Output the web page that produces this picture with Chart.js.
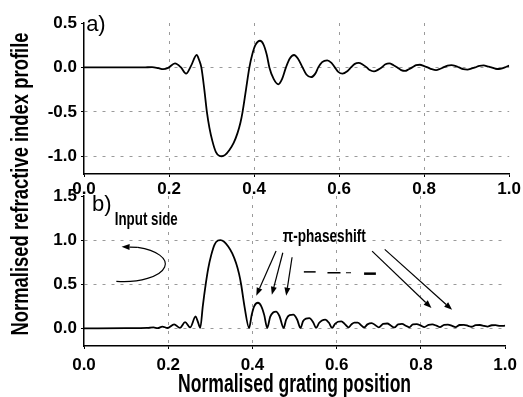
<!DOCTYPE html>
<html>
<head>
<meta charset="utf-8">
<script src="https://cdn.jsdelivr.net/npm/chart.js@4.4.0/dist/chart.umd.min.js"></script>
<style>
  body { margin: 0; background: #fff; }
  #wrap { position: relative; width: 523px; height: 397px; }
  canvas { position: absolute; left: 0; top: 0; }
</style>
</head>
<body>
<div id="wrap">
  <canvas id="profile" width="523" height="397"></canvas>
  <canvas id="envelope" width="523" height="397"></canvas>
</div>
<script>
// panel a) refractive index profile
var posA = [0.000, 0.050, 0.100, 0.140, 0.160, 0.175, 0.186, 0.198, 0.214, 0.228, 0.240, 0.252, 0.265, 0.271, 0.276,
  0.283, 0.289, 0.295, 0.302, 0.310, 0.318, 0.324, 0.332, 0.342, 0.352, 0.361, 0.368, 0.373, 0.381, 0.389,
  0.396, 0.403, 0.414, 0.422, 0.430, 0.436, 0.446, 0.457, 0.466, 0.475, 0.484, 0.494, 0.503, 0.514, 0.523,
  0.534, 0.544, 0.551, 0.560, 0.572, 0.582, 0.590, 0.598, 0.608, 0.620, 0.628, 0.637, 0.646, 0.656, 0.665,
  0.672, 0.682, 0.692, 0.700, 0.709, 0.718, 0.728, 0.737, 0.746, 0.755, 0.764, 0.772, 0.781, 0.790, 0.800,
  0.808, 0.818, 0.828, 0.838, 0.845, 0.855, 0.864, 0.874, 0.882, 0.892, 0.902, 0.912, 0.920, 0.930, 0.940,
  0.950, 0.958, 0.968, 0.976, 0.985, 0.992, 1.000];
var profileA = [0.000, 0.000, 0.000, 0.000, 0.004, -0.008, -0.020, -0.005, 0.045, 0.000, -0.070, 0.020, 0.140, 0.080, 0.000,
  -0.250, -0.500, -0.680, -0.830, -0.950, -0.995, -1.000, -0.985, -0.930, -0.850, -0.740, -0.620, -0.500, -0.250, 0.000,
  0.150, 0.250, 0.300, 0.260, 0.140, 0.000, -0.130, -0.190, -0.130, 0.000, 0.100, 0.140, 0.100, 0.000, -0.080,
  -0.110, -0.070, 0.000, 0.060, 0.080, 0.050, 0.000, -0.050, -0.070, -0.040, 0.000, 0.040, 0.050, 0.030, 0.000,
  -0.030, -0.045, -0.025, 0.000, 0.035, 0.045, 0.025, 0.000, -0.030, -0.040, -0.020, 0.000, 0.025, 0.030, 0.015,
  0.000, -0.020, -0.030, -0.015, 0.000, 0.020, 0.025, 0.015, 0.000, -0.020, -0.025, -0.012, 0.000, 0.018, 0.022,
  0.010, 0.000, -0.015, -0.018, -0.008, 0.005, 0.020];

// panel b) normalised envelope
var posB = [0.000, 0.100, 0.150, 0.165, 0.175, 0.186, 0.198, 0.214, 0.228, 0.240, 0.252, 0.265, 0.270, 0.276, 0.282,
  0.289, 0.295, 0.302, 0.310, 0.318, 0.324, 0.332, 0.342, 0.352, 0.361, 0.368, 0.373, 0.381, 0.392, 0.398,
  0.404, 0.413, 0.421, 0.428, 0.435, 0.442, 0.449, 0.456, 0.464, 0.474, 0.480, 0.488, 0.497, 0.506, 0.514,
  0.520, 0.527, 0.535, 0.544, 0.551, 0.558, 0.565, 0.573, 0.582, 0.589, 0.596, 0.603, 0.611, 0.620, 0.628,
  0.635, 0.642, 0.650, 0.658, 0.665, 0.673, 0.683, 0.692, 0.700, 0.710, 0.720, 0.729, 0.737, 0.746, 0.755,
  0.764, 0.772, 0.781, 0.790, 0.800, 0.808, 0.818, 0.827, 0.837, 0.845, 0.855, 0.864, 0.874, 0.882, 0.892,
  0.902, 0.912, 0.920, 0.930, 0.940, 0.950, 0.958, 0.968, 0.977, 0.988, 1.000];
var envelopeB = [0.000, 0.002, 0.005, 0.010, 0.002, 0.020, 0.004, 0.045, 0.005, 0.070, 0.010, 0.135, 0.080, 0.005, 0.250,
  0.500, 0.680, 0.830, 0.950, 0.995, 1.000, 0.985, 0.930, 0.850, 0.740, 0.620, 0.500, 0.250, 0.005, 0.150,
  0.250, 0.290, 0.250, 0.150, 0.005, 0.130, 0.180, 0.190, 0.140, 0.005, 0.100, 0.150, 0.155, 0.100, 0.005,
  0.080, 0.110, 0.115, 0.070, 0.005, 0.060, 0.090, 0.100, 0.060, 0.005, 0.050, 0.075, 0.080, 0.045, 0.010,
  0.045, 0.065, 0.065, 0.035, 0.010, 0.045, 0.060, 0.035, 0.010, 0.050, 0.055, 0.030, 0.010, 0.045, 0.050,
  0.030, 0.012, 0.045, 0.048, 0.030, 0.015, 0.040, 0.045, 0.030, 0.015, 0.040, 0.042, 0.028, 0.015, 0.038,
  0.040, 0.028, 0.018, 0.036, 0.038, 0.028, 0.020, 0.035, 0.036, 0.028, 0.030];

var xTickValues = [0.0, 0.2, 0.4, 0.6, 0.8, 1.0];
var yTicksA = [-1.0, -0.5, 0.0, 0.5];
var yTicksB = [0.0, 0.5, 1.0, 1.5];

// annotations of panel b, in data units
var phaseArrows = [
  [0.456, 0.876, 0.409, 0.37],
  [0.472, 0.857, 0.446, 0.38],
  [0.494, 0.806, 0.480, 0.37],
  [0.684, 0.876, 0.825, 0.23],
  [0.714, 0.895, 0.874, 0.21]
];
var dashes = [
  [0.522, 0.550, 0.640, 1.5],
  [0.578, 0.609, 0.630, 1.5],
  [0.622, 0.634, 0.630, 1],
  [0.665, 0.693, 0.620, 2.5]
];

var fontFamily = "'Liberation Sans', Arial, sans-serif";

function drawText(ctx, txt, x, y, font, width, rot) {
  ctx.save();
  ctx.font = font;
  ctx.fillStyle = '#000';
  ctx.translate(x, y);
  if (rot) ctx.rotate(rot);
  var w = ctx.measureText(txt).width;
  ctx.scale(width ? width / w : 1, 1);
  ctx.textAlign = width ? 'center' : 'left';
  ctx.textBaseline = 'alphabetic';
  ctx.fillText(txt, 0, 0);
  ctx.restore();
}

function arrow(ctx, x1, y1, x2, y2) {
  var a = Math.atan2(y2 - y1, x2 - x1);
  var head = 8, half = 3;
  var bx = x2 - head * Math.cos(a), by = y2 - head * Math.sin(a);
  ctx.beginPath();
  ctx.moveTo(x1, y1);
  ctx.lineTo(bx, by);
  ctx.stroke();
  ctx.beginPath();
  ctx.moveTo(x2, y2);
  ctx.lineTo(bx + half * Math.sin(a), by - half * Math.cos(a));
  ctx.lineTo(bx - half * Math.sin(a), by + half * Math.cos(a));
  ctx.closePath();
  ctx.fill();
}

function gridColor(hidden) {
  return function (c) {
    if (c.tick && hidden.indexOf(c.tick.value) >= 0) return 'rgba(0,0,0,0)';
    return '#9a9a9a';
  };
}

function makeChart(id, xs, ys, yMin, yMax, yTicks, pad, xAxisH, xPad, extra) {
  var pts = xs.map(function (x, i) { return { x: x, y: ys[i] }; });
  return new Chart(document.getElementById(id), {
    type: 'line',
    data: {
      datasets: [{
        data: pts,
        borderColor: '#000',
        borderWidth: 1.8,
        pointRadius: 0,
        cubicInterpolationMode: 'monotone',
        fill: false
      }]
    },
    options: {
      responsive: false,
      animation: false,
      layout: { padding: pad },
      plugins: { legend: { display: false }, tooltip: { enabled: false } },
      scales: {
        x: {
          type: 'linear', min: 0, max: 1,
          afterBuildTicks: function (s) { s.ticks = xTickValues.map(function (v) { return { value: v }; }); },
          afterFit: function (s) { s.height = xAxisH; },
          ticks: {
            padding: xPad, color: '#000', maxRotation: 0,
            font: { family: fontFamily, size: 17, weight: 'bold' },
            callback: function (v) { return v.toFixed(1); }
          },
          grid: { color: gridColor([0, 1]), tickColor: '#000', tickLength: 3, lineWidth: 1 },
          border: { color: '#000', width: 1.5, dash: [3, 6] }
        },
        y: {
          min: yMin, max: yMax,
          afterBuildTicks: function (s) { s.ticks = yTicks.map(function (v) { return { value: v }; }); },
          afterFit: function (s) { s.width = 84; },
          ticks: {
            padding: 4, color: '#000',
            font: { family: fontFamily, size: 17, weight: 'bold' },
            callback: function (v) { return v.toFixed(1); }
          },
          grid: { color: gridColor([yMax >= 1.5 ? 1.5 : 0.5]), tickColor: '#000', tickLength: 3, lineWidth: 1 },
          border: { color: '#000', width: 1.5, dash: [3, 6] }
        }
      }
    },
    plugins: [{ id: 'labels' + id, afterDraw: extra }]
  });
}

makeChart('profile', posA, profileA, -1.2, 0.5, yTicksA,
  { left: 0, right: 13, top: 23, bottom: 198 }, 25, 2,
  function (chart) {
    var ctx = chart.ctx, sx = chart.scales.x, sy = chart.scales.y;
    drawText(ctx, 'a)', sx.getPixelForValue(0.005), sy.getPixelForValue(0.41), '22px ' + fontFamily);
  });

makeChart('envelope', posB, envelopeB, -0.2, 1.5, yTicksB,
  { left: 0, right: 13, top: 196, bottom: 0 }, 51, 6,
  function (chart) {
    var ctx = chart.ctx, sx = chart.scales.x, sy = chart.scales.y;
    var px = function (v) { return sx.getPixelForValue(v); };
    var py = function (v) { return sy.getPixelForValue(v); };

    drawText(ctx, 'b)', px(0.019), py(1.326), '22px ' + fontFamily);
    drawText(ctx, 'Input side', px(0.073) + 31.5, py(1.17), 'bold 18px ' + fontFamily, 63);
    drawText(ctx, '\u03c0-phaseshift', px(0.472) + 41.5, py(0.978), 'bold 18px ' + fontFamily, 83);

    ctx.save();
    ctx.strokeStyle = '#000';
    ctx.fillStyle = '#000';
    ctx.lineWidth = 1.2;
    phaseArrows.forEach(function (a) { arrow(ctx, px(a[0]), py(a[1]), px(a[2]), py(a[3])); });

    // curved arrow next to "Input side"
    var cx = px(0.094), cy = py(0.73);
    var rx = px(0.193) - cx, ry = cy - py(0.93);
    ctx.beginPath();
    ctx.ellipse(cx, cy, rx, ry, 0, 100 * Math.PI / 180, -70 * Math.PI / 180, true);
    ctx.stroke();
    var ex = cx + rx * Math.cos(-70 * Math.PI / 180), ey = cy + ry * Math.sin(-70 * Math.PI / 180);
    arrow(ctx, ex, ey, cx - 2, cy - ry + 0.5);

    dashes.forEach(function (d) {
      ctx.lineWidth = d[3];
      ctx.beginPath();
      ctx.moveTo(px(d[0]), py(d[2]));
      ctx.lineTo(px(d[1]), py(d[2]));
      ctx.stroke();
    });
    ctx.restore();

    // shared axis titles
    var area = chart.chartArea;
    drawText(ctx, 'Normalised grating position', (area.left + area.right) / 2, 392,
      'bold 26px ' + fontFamily, 233);
    drawText(ctx, 'Normalised refractive index profile', 28, 184,
      'bold 24px ' + fontFamily, 303, -Math.PI / 2);
  });
</script>
</body>
</html>
